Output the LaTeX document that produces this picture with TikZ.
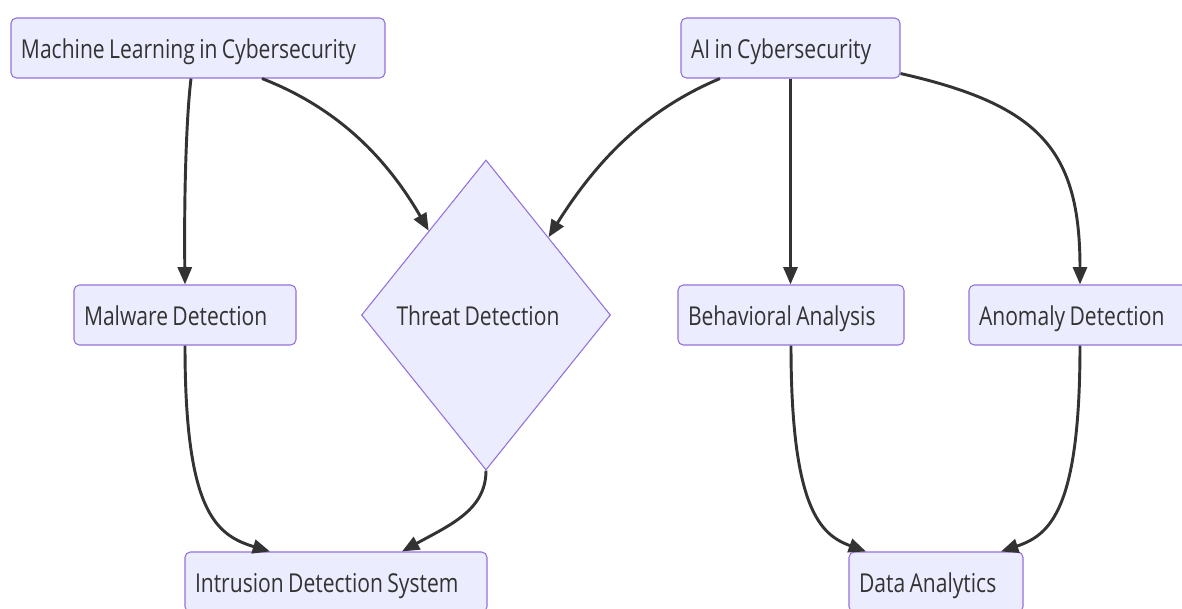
\documentclass[tikz,border=0pt]{standalone}
\usepackage{fontspec}
\setmainfont{Open Sans}[FakeStretch=0.81,WordSpace=0.8]
\usepackage{tikz}
\usetikzlibrary{arrows.meta,shapes.geometric}
\definecolor{boxfill}{HTML}{ECECFF}
\definecolor{boxline}{HTML}{9370DB}
\definecolor{inkgrey}{HTML}{333333}
\newcommand{\lefttext}[2]{\makebox[#1][l]{#2}}
\tikzset{
  labelfont/.style={text=inkgrey, font=\fontsize{19.5pt}{23pt}\selectfont, text height=19pt, text depth=4pt},
  box/.style={rectangle, rounded corners=4pt, draw=boxline, line width=0.8pt, fill=boxfill, labelfont,
    inner xsep=7.5pt, inner ysep=0pt, minimum height=45pt},
  decision/.style={diamond, draw=boxline, line width=0.8pt, fill=boxfill, inner sep=0pt,
    minimum width=186.75pt, minimum height=232.5pt},
  flow/.style={draw=inkgrey, line width=2.2pt, -{Triangle[length=13pt,width=10.5pt]}},
}
\begin{document}
\begin{tikzpicture}[x=0.75pt,y=-0.75pt]
\clip (0,0) rectangle (1182,608);

%Node: top row
\node[box] (ml) at (198,48) {\lefttext{265.5pt}{Machine Learning in Cybersecurity}};
\node[box] (ai) at (790.5,48) {\lefttext{149.25pt}{AI in Cybersecurity}};

%Node: middle row
\node[box] (mal) at (185,315) {\lefttext{151.5pt}{Malware Detection}};
\node[decision, label={[labelfont, inner sep=0pt, xshift=-6pt]center:Threat Detection}] (td) at (486,315) {};
\node[box] (beh) at (791,315) {\lefttext{154.5pt}{Behavioral Analysis}};
\node[box] (ano) at (1080,315) {\lefttext{151.5pt}{Anomaly Detection}};

%Node: bottom row
\node[box] (ids) at (336,582) {\lefttext{211.5pt}{Intrusion Detection System}};
\node[box] (da) at (936,582) {\lefttext{115.5pt}{Data Analytics}};

%Edges: machine learning
\draw[flow] ([xshift=-5.25pt]ml.south) .. controls (186,120) and (184,200) .. (mal.north);
\draw[flow] ([xshift=48pt]ml.south) .. controls (330,105) and (382,150) .. ([shift={(3.9pt,4.9pt)}]td.north west);

%Edges: AI
\draw[flow] ([xshift=-52.9pt]ai.south) .. controls (650,108) and (600,155) .. (td.north east);
\draw[flow] (ai.south) -- (ai.south |- beh.north);
\draw[flow] ([yshift=3.75pt]ai.south east) .. controls (1040,105) and (1080,150) .. (ano.north);

%Edges: into the bottom row
\draw[flow] (mal.south) .. controls (185,510) and (215,535) .. ([xshift=-49.5pt]ids.north);
\draw[flow] (td.south) .. controls (486,510) and (450,525) .. ([xshift=49.5pt]ids.north);
\draw[flow] (beh.south) .. controls (791,510) and (821,535) .. ([xshift=-52.5pt]da.north);
\draw[flow] (ano.south) .. controls (1080,510) and (1050,535) .. ([xshift=48.75pt]da.north);

\end{tikzpicture}
\end{document}
